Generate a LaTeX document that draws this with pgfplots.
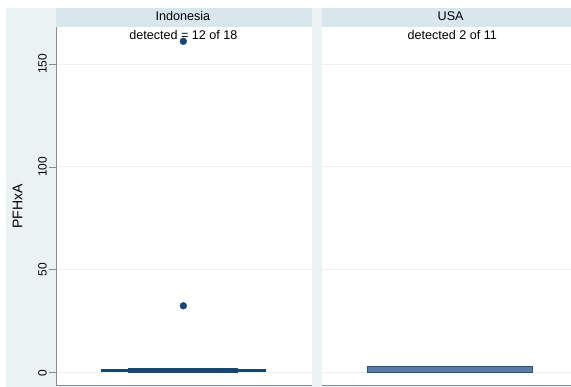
\documentclass[border=0pt]{standalone}
\usepackage{pgfplots}
\pgfplotsset{compat=1.18}
\usepgfplotslibrary{statistics}
\usepackage{fontspec}
\setmainfont{Liberation Sans}

\definecolor{bgouter}{HTML}{EAF2F3}
\definecolor{strip}{HTML}{D9E6EB}
\definecolor{gridc}{HTML}{EAF2F3}
\definecolor{axisgray}{HTML}{8C8C8C}
\definecolor{navy}{HTML}{1A476F}
\definecolor{usafill}{HTML}{5A7CA4}
\definecolor{usaedge}{HTML}{2A5382}

\pgfplotsset{
  panel/.style={
    scale only axis,
    width=256pt, height=359pt,
    anchor=south west,
    xmin=0, xmax=1,
    ymin=-6.31, ymax=167.96,
    axis background/.style={fill=white},
    axis line style={draw=none},
    xtick=\empty,
    ytick={0,50,100,150},
    ymajorgrids,
    grid style={gridc, line width=0.8pt},
    tick style={axisgray, line width=0.6pt},
    /pgf/number format/assume math mode=true,
    boxplot/draw direction=y,
    clip=false,
  },
}

\begin{document}
\begin{tikzpicture}[x=1pt,y=1pt]
  % canvas and graph region
  \path[fill=white] (0,0) rectangle (571,387);
  \path[fill=bgouter] (6,0) rectangle (571,379);

  % ---------- Indonesia ----------
  \begin{axis}[panel, at={(56pt,1pt)},
      major tick length=7pt,
      yticklabel style={rotate=90, font=\fontsize{12}{14}\selectfont, anchor=south, inner sep=2pt},
      ylabel={PFHxA},
      ylabel style={font=\fontsize{14}{16}\selectfont, at={(rel axis cs:0,0.5)}, anchor=south, rotate=0, yshift=30pt},
      ytick pos=left, ytick align=outside,
    ]
    \draw[axisgray, line width=0.9pt] (rel axis cs:0,0) -- (rel axis cs:0,1);
    \draw[axisgray, line width=0.9pt] (rel axis cs:0,0) -- (rel axis cs:1,0);
    % box
    \addplot+[boxplot prepared={lower whisker=0.6, lower quartile=0.6,
        median=1.1, upper quartile=1.6, upper whisker=1.6,
        draw position=0.498, box extend=0.637},
        draw=navy, fill=navy, line width=1.6pt, mark=none]
      coordinates {};
    % inner segment
    \addplot[navy, line width=5.5pt] coordinates {(0.281,1.1) (0.711,1.1)};
    % outside values
    \addplot[only marks, mark=*, mark size=3.4pt, navy, mark options={draw=navy, fill=navy}]
      coordinates {(0.498,161) (0.498,32.5)};
    \node[font=\fontsize{12.6}{14}\selectfont, anchor=north, inner sep=0pt]
      at (rel axis cs:0.498,0.992) {detected = 12 of 18};
  \end{axis}
  \path[fill=strip] (56,360) rectangle (312,379);
  \node[font=\fontsize{12.6}{14}\selectfont, anchor=base] at (183,366) {Indonesia};

  % ---------- USA ----------
  \begin{axis}[panel, at={(322pt,1pt)}, width=249pt, xmax=0.9727,
      ytick=\empty, extra y ticks={0,50,100,150}, extra y tick labels={},
      extra y tick style={major tick length=0pt, grid style={gridc, line width=0.8pt}},
    ]
    \draw[axisgray, line width=0.9pt] (rel axis cs:0,0) -- (rel axis cs:1,0);
    \addplot+[boxplot prepared={lower whisker=0, lower quartile=0,
        median=0, upper quartile=3.0, upper whisker=3.0,
        draw position=0.5, box extend=0.645},
        draw=usaedge, fill=usafill, line width=0.9pt, mark=none]
      coordinates {};
    \node[font=\fontsize{12.6}{14}\selectfont, anchor=north, inner sep=0pt]
      at (axis cs:0.51,166.4) {detected 2 of 11};
  \end{axis}
  \path[fill=strip] (322,360) rectangle (571,379);
  \node[font=\fontsize{12.6}{14}\selectfont, anchor=base] at (451,366) {USA};
\end{tikzpicture}
\end{document}
